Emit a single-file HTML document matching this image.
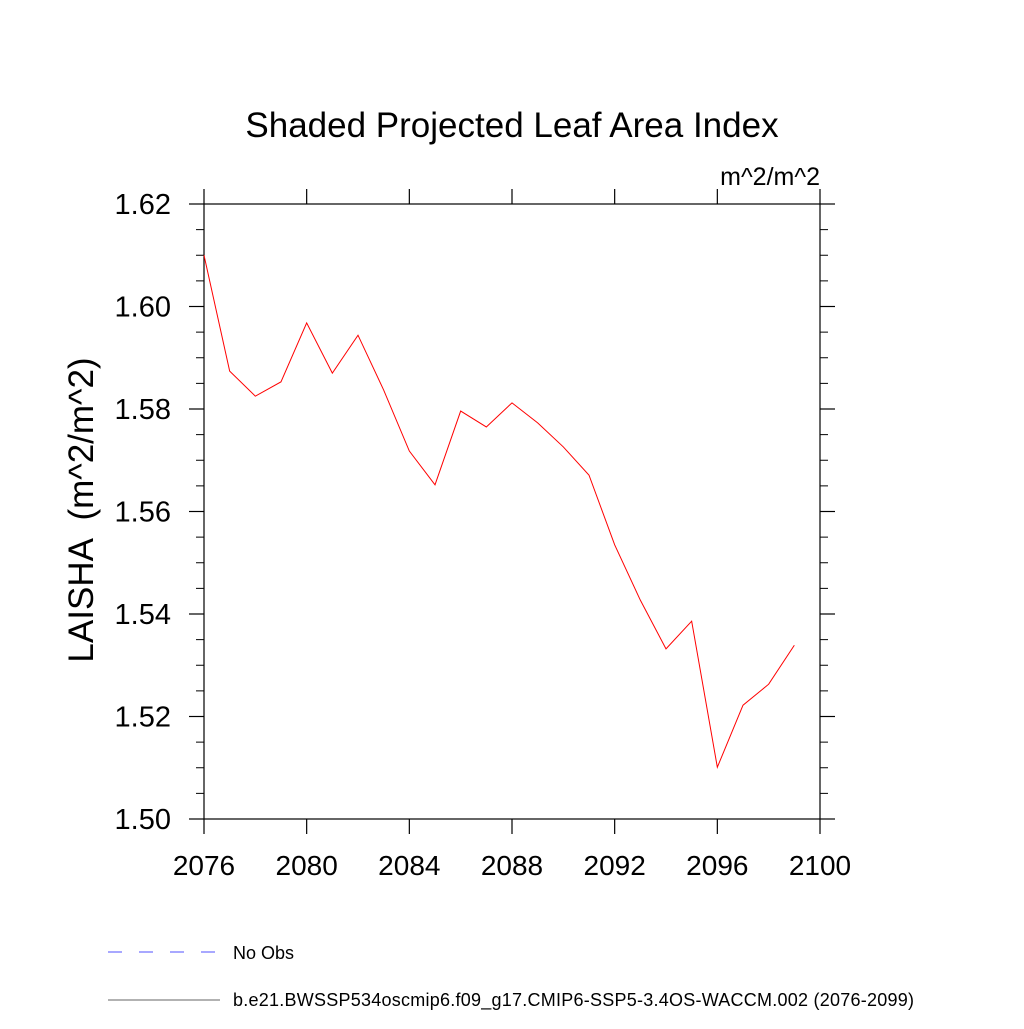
<!DOCTYPE html>
<html><head><meta charset="utf-8"><style>
body{margin:0;background:#fff}
svg{font-family:"Liberation Sans",sans-serif}
</style></head><body>
<svg id="chart" width="1024" height="1024" viewBox="0 0 1024 1024" xmlns="http://www.w3.org/2000/svg">
<rect width="1024" height="1024" fill="#fff"/>
<text x="512" y="137" font-size="35" text-anchor="middle">Shaded Projected Leaf Area Index</text>
<text x="820" y="185" font-size="25" text-anchor="end">m^2/m^2</text>
<text transform="translate(93,510) rotate(-90)" font-size="35" text-anchor="middle" xml:space="preserve">LAISHA  (m^2/m^2)</text>
<g id="axes"></g>
<g id="series"></g>
<g>
<line x1="108" y1="952" x2="215" y2="952" stroke="#5050ff" stroke-width="1" stroke-dasharray="14,17"/>
<text x="233" y="959" font-size="18">No Obs</text>
<line x1="108" y1="1000" x2="220" y2="1000" stroke="#666" stroke-width="1"/>
<text x="233" y="1006" font-size="18" textLength="681">b.e21.BWSSP534oscmip6.f09_g17.CMIP6-SSP5-3.4OS-WACCM.002 (2076-2099)</text>
</g>
</svg>
<script>
const years=[2076,2077,2078,2079,2080,2081,2082,2083,2084,2085,2086,2087,2088,2089,2090,2091,2092,2093,2094,2095,2096,2097,2098,2099];
const laisha=[1.610,1.5874,1.5825,1.5853,1.5968,1.5870,1.5944,1.5837,1.5718,1.5652,1.5796,1.5765,1.5812,1.5773,1.5726,1.5671,1.5535,1.5427,1.5332,1.5386,1.5101,1.5222,1.5263,1.5339];
const xTicks=[2076,2080,2084,2088,2092,2096,2100];
const yTicks=[1.50,1.52,1.54,1.56,1.58,1.60,1.62];
const yTickLabels=["1.50","1.52","1.54","1.56","1.58","1.60","1.62"];
const X0=204,X1=820,Y0=819,Y1=204;
const xs=v=>X0+(v-2076)/(2100-2076)*(X1-X0);
const ys=v=>Y0-(v-1.50)/(1.62-1.50)*(Y0-Y1);
const NS="http://www.w3.org/2000/svg";
const axes=document.getElementById('axes');
function mk(tag,attrs,parent){const e=document.createElementNS(NS,tag);for(const k in attrs)e.setAttribute(k,attrs[k]);parent.appendChild(e);return e;}
const frame=mk('rect',{x:X0,y:Y1,width:X1-X0,height:Y0-Y1,fill:'none',stroke:'#000','stroke-width':1.2},axes);


xTicks.forEach(t=>{
 const x=xs(t);
 const a=mk('line',{x1:x,y1:Y0,x2:x,y2:Y0+15,stroke:'#000','stroke-width':1.2},axes);
 
 
 const b=mk('line',{x1:x,y1:Y1,x2:x,y2:Y1-15,stroke:'#000','stroke-width':1.2},axes);
 
 
 const l=mk('text',{x:x,y:875,'font-size':28,'text-anchor':'middle'},axes);l.textContent=t;
 
 
});
yTicks.forEach((t,i)=>{
 const y=ys(t);
 const a=mk('line',{x1:X0-15,y1:y,x2:X0,y2:y,stroke:'#000','stroke-width':1.2},axes);
 
 
 const b=mk('line',{x1:X1,y1:y,x2:X1+15,y2:y,stroke:'#000','stroke-width':1.2},axes);
 
 
 const l=mk('text',{x:171,y:y+10,'font-size':29,'text-anchor':'end'},axes);l.textContent=yTickLabels[i];
 
 
});
for(let v=1.505;v<1.62;v+=0.005){
 if(Math.abs(Math.round(v*50)-v*50)<1e-6)continue;
 const y=ys(v);
 const a=mk('line',{x1:X0-8,y1:y,x2:X0,y2:y,stroke:'#000','stroke-width':1},axes);
 
 
 const b=mk('line',{x1:X1,y1:y,x2:X1+8,y2:y,stroke:'#000','stroke-width':1},axes);
 
 
}
const pts=years.map((yr,i)=>xs(yr)+','+ys(laisha[i])).join(' ');
const line=mk('polyline',{points:pts,fill:'none',stroke:'#ff0000','stroke-width':1},document.getElementById('series'));


</script>
</body></html>
